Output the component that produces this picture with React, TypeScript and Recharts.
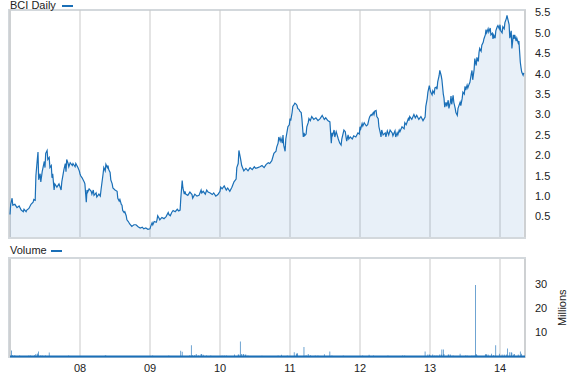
import { Area, AreaChart, Bar, BarChart, CartesianGrid, XAxis, YAxis } from "recharts"

const PRICE_NAME = "BCI Daily"
const VOLUME_NAME = "Volume"
const VOLUME_UNIT = "Millions"

// time axis in decimal years
const timeDomain = [2007, 2014.357]
const yearTicks = [2008, 2009, 2010, 2011, 2012, 2013, 2014]
const yearLabels = ["08", "09", "10", "11", "12", "13", "14"]
const priceTicks = [0.5, 1, 1.5, 2, 2.5, 3, 3.5, 4, 4.5, 5, 5.5]
const volumeTicks = [10, 20, 30]

// closing price
const priceDates = [
  // 2007
  2007.0, 2007.01, 2007.03, 2007.04, 2007.07, 2007.1, 2007.13, 2007.16, 2007.19, 2007.2,
  2007.23, 2007.24, 2007.27, 2007.3, 2007.33, 2007.34, 2007.36, 2007.37, 2007.39, 2007.4,
  2007.41, 2007.43, 2007.44, 2007.46, 2007.49, 2007.5, 2007.51, 2007.53, 2007.54, 2007.56,
  2007.57, 2007.59, 2007.6, 2007.61, 2007.63, 2007.64, 2007.67, 2007.7, 2007.73, 2007.74,
  2007.77, 2007.79, 2007.8, 2007.81, 2007.83, 2007.84, 2007.86, 2007.89, 2007.9, 2007.93,
  2007.94, 2007.97, 2007.99,
  // 2008
  2008.0, 2008.01, 2008.03, 2008.06, 2008.07, 2008.09, 2008.1, 2008.11, 2008.13, 2008.16,
  2008.17, 2008.19, 2008.2, 2008.23, 2008.24, 2008.27, 2008.29, 2008.3, 2008.33, 2008.34,
  2008.36, 2008.37, 2008.39, 2008.4, 2008.41, 2008.43, 2008.44, 2008.46, 2008.47, 2008.5,
  2008.53, 2008.54, 2008.56, 2008.57, 2008.59, 2008.6, 2008.61, 2008.63, 2008.64, 2008.66,
  2008.67, 2008.69, 2008.71, 2008.74, 2008.77, 2008.8, 2008.83, 2008.86, 2008.89, 2008.91,
  2008.94, 2008.97,
  // 2009
  2009.0, 2009.01, 2009.03, 2009.04, 2009.06, 2009.09, 2009.1, 2009.11, 2009.13, 2009.14,
  2009.17, 2009.2, 2009.23, 2009.26, 2009.27, 2009.29, 2009.31, 2009.33, 2009.36, 2009.39,
  2009.41, 2009.43, 2009.44, 2009.46, 2009.47, 2009.49, 2009.5, 2009.51, 2009.54, 2009.57,
  2009.6, 2009.61, 2009.64, 2009.67, 2009.7, 2009.73, 2009.74, 2009.76, 2009.79, 2009.81,
  2009.83, 2009.86, 2009.89, 2009.91, 2009.94, 2009.97,
  // 2010
  2010.0, 2010.01, 2010.03, 2010.06, 2010.09, 2010.11, 2010.14, 2010.17, 2010.2, 2010.23,
  2010.24, 2010.26, 2010.27, 2010.29, 2010.3, 2010.31, 2010.34, 2010.37, 2010.4, 2010.43,
  2010.46, 2010.49, 2010.51, 2010.54, 2010.57, 2010.6, 2010.63, 2010.66, 2010.69, 2010.71,
  2010.74, 2010.77, 2010.8, 2010.81, 2010.83, 2010.84, 2010.86, 2010.87, 2010.89, 2010.9,
  2010.91, 2010.93, 2010.94, 2010.96, 2010.97, 2010.99,
  // 2011
  2011.0, 2011.01, 2011.03, 2011.04, 2011.06, 2011.07, 2011.09, 2011.1, 2011.11, 2011.13,
  2011.14, 2011.16, 2011.17, 2011.19, 2011.2, 2011.21, 2011.23, 2011.24, 2011.26, 2011.27,
  2011.29, 2011.31, 2011.34, 2011.37, 2011.4, 2011.43, 2011.46, 2011.49, 2011.51, 2011.54,
  2011.57, 2011.59, 2011.6, 2011.61, 2011.63, 2011.64, 2011.66, 2011.69, 2011.71, 2011.73,
  2011.74, 2011.77, 2011.79, 2011.8, 2011.81, 2011.83, 2011.84, 2011.86, 2011.89, 2011.91,
  2011.94, 2011.97, 2011.99,
  // 2012
  2012.0, 2012.01, 2012.03, 2012.04, 2012.06, 2012.09, 2012.11, 2012.13, 2012.14, 2012.16,
  2012.17, 2012.19, 2012.2, 2012.21, 2012.23, 2012.24, 2012.26, 2012.27, 2012.29, 2012.3,
  2012.31, 2012.33, 2012.36, 2012.37, 2012.39, 2012.4, 2012.41, 2012.43, 2012.46, 2012.47,
  2012.5, 2012.51, 2012.53, 2012.54, 2012.56, 2012.57, 2012.6, 2012.63, 2012.64, 2012.66,
  2012.69, 2012.7, 2012.71, 2012.74, 2012.77, 2012.79, 2012.81, 2012.84, 2012.87, 2012.9,
  2012.93, 2012.94, 2012.96, 2012.97, 2012.99,
  // 2013
  2013.0, 2013.01, 2013.03, 2013.04, 2013.06, 2013.07, 2013.09, 2013.1, 2013.11, 2013.13,
  2013.14, 2013.16, 2013.17, 2013.19, 2013.2, 2013.21, 2013.23, 2013.24, 2013.26, 2013.27,
  2013.29, 2013.3, 2013.31, 2013.33, 2013.34, 2013.36, 2013.37, 2013.39, 2013.4, 2013.41,
  2013.43, 2013.44, 2013.46, 2013.47, 2013.49, 2013.5, 2013.51, 2013.53, 2013.54, 2013.56,
  2013.57, 2013.59, 2013.6, 2013.61, 2013.63, 2013.64, 2013.66, 2013.67, 2013.69, 2013.7,
  2013.71, 2013.73, 2013.74, 2013.76, 2013.77, 2013.79, 2013.8, 2013.81, 2013.83, 2013.84,
  2013.86, 2013.87, 2013.89, 2013.9, 2013.91, 2013.93, 2013.94, 2013.96, 2013.97, 2013.99,
  // 2014
  2014.0, 2014.01, 2014.03, 2014.04, 2014.06, 2014.07, 2014.09, 2014.1, 2014.11, 2014.13,
  2014.14, 2014.16, 2014.17, 2014.19, 2014.2, 2014.21, 2014.23, 2014.24, 2014.26, 2014.27,
  2014.29, 2014.3, 2014.31, 2014.33, 2014.34,
]

const prices = [
  // 2007
  0.55, 0.8, 0.95, 0.78, 0.8, 0.72, 0.76, 0.66, 0.62, 0.68,
  0.62, 0.66, 0.7, 0.8, 0.85, 0.92, 0.9, 1.5, 1.9, 2.08,
  1.4, 1.55, 1.35, 1.6, 1.85, 1.7, 2.05, 2.12, 1.9, 1.95,
  1.7, 1.75, 1.45, 1.55, 1.15, 1.3, 1.22, 1.3, 1.15, 1.35,
  1.65, 1.8, 1.6, 1.9, 1.8, 1.72, 1.82, 1.75, 1.8, 1.72,
  1.8, 1.7, 1.62,
  // 2008
  1.55, 1.5, 1.45, 1.35, 1.3, 0.85, 1.15, 1.1, 1.18, 1.12,
  1.05, 1.15, 1.02, 1.08, 0.98, 1.05, 1.0, 1.15, 1.55, 1.7,
  1.62, 1.78, 1.7, 1.75, 1.65, 1.58, 1.4, 1.3, 1.2, 1.15,
  1.12, 0.95, 0.88, 0.92, 0.8, 0.78, 0.65, 0.6, 0.62, 0.52,
  0.42, 0.38, 0.32, 0.26, 0.3, 0.3, 0.25, 0.22, 0.24, 0.2,
  0.22, 0.19,
  // 2009
  0.2, 0.26, 0.35, 0.3, 0.38, 0.36, 0.42, 0.52, 0.46, 0.42,
  0.48, 0.45, 0.5, 0.6, 0.55, 0.52, 0.6, 0.65, 0.62, 0.68,
  0.64, 0.66, 0.95, 1.38, 1.2, 1.05, 1.12, 1.05, 1.02, 1.1,
  1.04, 0.95, 1.05, 1.0, 1.02, 1.15, 1.08, 1.12, 1.05, 1.15,
  1.1, 1.08, 1.04, 1.08, 1.0, 1.04,
  // 2010
  1.12, 1.22, 1.18, 1.25, 1.15, 1.2, 1.12, 1.22, 1.35, 1.42,
  1.7, 1.8, 2.12, 1.95, 1.85, 1.75, 1.62, 1.68, 1.62, 1.7,
  1.65, 1.72, 1.68, 1.7, 1.72, 1.75, 1.7, 1.78, 1.82, 1.8,
  1.87, 2.05, 2.1, 2.2, 2.3, 2.45, 2.35, 2.42, 2.3, 2.5,
  2.25, 2.1, 2.4, 2.6, 2.7, 2.75,
  // 2011
  2.9, 2.85, 3.05, 3.2, 3.25, 3.28, 3.25, 3.22, 3.15, 3.12,
  3.08, 3.05, 2.9, 2.45, 2.55, 2.48, 2.52, 2.7, 2.8, 2.9,
  2.85, 2.95, 2.88, 2.92, 2.85, 2.9, 2.98, 2.88, 2.92, 2.85,
  2.82, 2.3, 2.55, 2.5, 2.62, 2.45, 2.58, 2.4, 2.3, 2.25,
  2.4, 2.62, 2.58, 2.45, 2.35, 2.5, 2.4, 2.45, 2.4, 2.48,
  2.45, 2.55, 2.52,
  // 2012
  2.7, 2.65, 2.78, 2.72, 2.8, 2.72, 2.75, 2.9, 2.95, 3.0,
  2.98, 3.05, 3.0, 3.08, 3.1, 2.95, 2.9, 2.7, 2.55, 2.45,
  2.62, 2.5, 2.55, 2.45, 2.6, 2.55, 2.5, 2.62, 2.55, 2.48,
  2.6, 2.45, 2.55, 2.5, 2.62, 2.58, 2.7, 2.65, 2.8, 2.75,
  2.9, 2.85, 2.95, 2.88, 3.0, 2.92, 2.98, 2.88, 2.95, 2.85,
  2.94, 3.2, 3.39, 3.55, 3.71,
  // 2013
  3.62, 3.55, 3.48, 3.58, 3.52, 3.65, 3.67, 3.62, 3.8, 3.95,
  4.08, 3.95, 3.85, 3.5, 3.4, 3.18, 3.3, 3.2, 3.35, 3.15,
  3.3, 3.45, 3.25, 3.47, 3.3, 3.15, 3.05, 2.98, 3.15, 3.2,
  3.3, 3.22, 3.4, 3.55, 3.5, 3.69, 3.6, 3.72, 3.65, 3.75,
  3.79, 4.0, 4.08, 3.85, 4.1, 4.37, 4.2, 4.4, 4.3, 4.52,
  4.62, 4.55, 4.7, 4.77, 4.85, 4.95, 5.08, 5.0, 5.1, 5.02,
  5.12, 4.95, 4.99, 4.85, 4.95, 4.87, 5.05, 5.15, 5.18, 5.1,
  // 2014
  5.2, 5.05, 5.0, 5.15, 5.1, 5.25, 5.35, 5.43, 5.35, 5.2,
  4.87, 5.05, 4.62, 4.95, 4.85, 4.95, 4.8, 4.87, 4.75, 4.8,
  4.28, 4.15, 4.04, 3.96, 4.02,
]

// daily volume in millions (only the visible bars)
const volumeDates = [
  2007.02, 2007.04, 2007.07, 2007.14, 2007.27, 2007.29, 2007.35, 2007.37, 2007.39, 2007.4,
  2007.41, 2007.44, 2007.46, 2007.51, 2007.56, 2007.84, 2008.36, 2008.37, 2009.04, 2009.27,
  2009.44, 2009.46, 2009.57, 2009.59, 2009.61, 2009.64, 2009.66, 2009.69, 2009.73, 2009.74,
  2009.76, 2009.81, 2009.87, 2010.03, 2010.06, 2010.09, 2010.21, 2010.26, 2010.27, 2010.29,
  2010.31, 2010.33, 2010.34, 2010.36, 2010.37, 2010.4, 2010.6, 2010.83, 2010.88, 2010.96,
  2011.06, 2011.09, 2011.1, 2011.11, 2011.2, 2011.23, 2011.26, 2011.29, 2011.36, 2011.4,
  2011.49, 2011.57, 2011.6, 2011.76, 2012.04, 2012.13, 2012.19, 2012.4, 2012.61, 2012.64,
  2012.93, 2012.97, 2012.99, 2013.0, 2013.04, 2013.07, 2013.1, 2013.14, 2013.16, 2013.17,
  2013.19, 2013.2, 2013.26, 2013.27, 2013.29, 2013.33, 2013.43, 2013.51, 2013.53, 2013.6,
  2013.63, 2013.65, 2013.66, 2013.67, 2013.79, 2013.8, 2013.81, 2013.83, 2013.88, 2013.91,
  2013.94, 2013.99, 2014.03, 2014.06, 2014.09, 2014.11, 2014.14, 2014.16, 2014.17, 2014.19,
  2014.21, 2014.26, 2014.29, 2014.31,
]

const volumes = [
  2.5, 0.6, 0.5, 0.4, 0.4, 0.4, 0.5, 1.0, 1.2, 0.8,
  2.1, 0.4, 0.4, 0.4, 1.7, 0.4, 0.4, 0.4, 0.4, 0.4,
  2.4, 2.0, 0.5, 4.7, 0.5, 0.5, 1.0, 0.4, 1.0, 1.0,
  0.7, 0.4, 0.4, 0.4, 0.4, 0.4, 0.8, 0.8, 0.8, 6.2,
  1.0, 0.9, 1.0, 0.7, 0.8, 0.4, 0.3, 0.4, 0.7, 0.4,
  1.8, 1.2, 0.9, 1.3, 3.9, 0.5, 1.0, 0.5, 0.4, 0.4,
  0.9, 2.1, 0.4, 0.4, 0.4, 0.7, 0.4, 0.4, 0.4, 0.4,
  2.1, 0.8, 0.8, 0.5, 0.8, 0.4, 0.4, 0.8, 0.8, 2.9,
  2.9, 1.0, 0.8, 0.8, 0.8, 0.4, 1.1, 0.4, 0.4, 0.4,
  0.4, 29.6, 1.0, 0.6, 0.8, 1.0, 0.8, 0.8, 1.1, 0.5,
  4.6, 1.1, 0.8, 0.8, 0.8, 3.3, 1.8, 1.8, 1.5, 0.8,
  1.0, 0.8, 2.1, 1.1,
]

const priceData = priceDates.map((t, i) => ({ t, close: prices[i] }))
const volumeData = volumeDates.map((t, i) => ({ t, volume: volumes[i] }))

const BLUE = "#1a6fb7"
const GRID = "#c9c9c9"
const FRAME = "#d3d8dc"
const tickStyle = { fontSize: 11, fill: "#222" }

const yearLabel = (t: number) => yearLabels[yearTicks.indexOf(t)] ?? ""

function SeriesLabel({ name, top, dashLeft }: { name: string; top: number; dashLeft: number }) {
  return (
    <>
      <div style={{ position: "absolute", left: 10, top, fontSize: 11, lineHeight: "11px", color: "#222" }}>{name}</div>
      <div style={{ position: "absolute", left: dashLeft, top: top + 5, width: 11, height: 2, background: BLUE }} />
    </>
  )
}

export default function App() {
  return (
    <div
      style={{
        position: "absolute",
        left: 0,
        top: 0,
        width: 575,
        height: 380,
        background: "#fff",
        fontFamily: "'Liberation Sans', Arial, sans-serif",
      }}
    >
      {/* panel frames */}
      <div
        style={{
          position: "absolute", left: 8, top: 9, width: 518, height: 230, boxSizing: "border-box",
          border: `2px solid ${FRAME}`, borderLeftWidth: 3,
        }}
      />
      <div
        style={{
          position: "absolute", left: 8, top: 257, width: 518, height: 101, boxSizing: "border-box",
          border: `2px solid ${FRAME}`, borderLeftWidth: 3,
        }}
      />

      <div style={{ position: "absolute", left: 0, top: 0 }}>
        <BarChart width={575} height={380} data={volumeData} margin={{ top: 259, right: 0, left: 10, bottom: 3.5 }}>
          <CartesianGrid horizontal={false} stroke={GRID} />
          <XAxis
            dataKey="t"
            type="number"
            domain={timeDomain}
            ticks={yearTicks}
            tickFormatter={yearLabel}
            height={20}
            tick={tickStyle}
            tickLine={false}
            tickMargin={2}
            axisLine={{ stroke: BLUE, strokeWidth: 2 }}
          />
          <YAxis
            orientation="right"
            width={50}
            domain={[0, 40.3]}
            ticks={volumeTicks}
            tick={tickStyle}
            tickLine={false}
            axisLine={false}
            tickMargin={4}
            label={({ viewBox }: any) => (
              <text
                x={viewBox.x + 41}
                y={viewBox.y + viewBox.height / 2}
                transform={`rotate(-90 ${viewBox.x + 41} ${viewBox.y + viewBox.height / 2})`}
                textAnchor="middle"
                fontSize={11}
                fill="#222"
              >
                {VOLUME_UNIT}
              </text>
            )}
          />
          <Bar dataKey="volume" name={VOLUME_NAME} fill={BLUE} barSize={1} isAnimationActive={false} />
        </BarChart>
      </div>

      <div style={{ position: "absolute", left: 0, top: 0 }}>
        <AreaChart width={575} height={380} data={priceData} margin={{ top: 10, right: 0, left: 10, bottom: 143 }}>
          <CartesianGrid horizontal={false} stroke={GRID} />
          <XAxis
            dataKey="t"
            type="number"
            domain={timeDomain}
            ticks={yearTicks}
            height={0}
            tick={() => <g />}
            tickLine={false}
            axisLine={false}
          />
          <YAxis
            orientation="right"
            width={50}
            domain={[0, 5.56]}
            ticks={priceTicks}
            tickFormatter={(v: number) => v.toFixed(1)}
            tick={tickStyle}
            tickLine={false}
            axisLine={false}
            tickMargin={4}
          />
          <Area
            type="linear"
            dataKey="close"
            name={PRICE_NAME}
            stroke={BLUE}
            strokeWidth={1.2}
            fill={BLUE}
            fillOpacity={0.1}
            isAnimationActive={false}
          />
        </AreaChart>
      </div>

      <SeriesLabel name={PRICE_NAME} top={0} dashLeft={62} />
      <SeriesLabel name={VOLUME_NAME} top={245} dashLeft={51} />
    </div>
  )
}
